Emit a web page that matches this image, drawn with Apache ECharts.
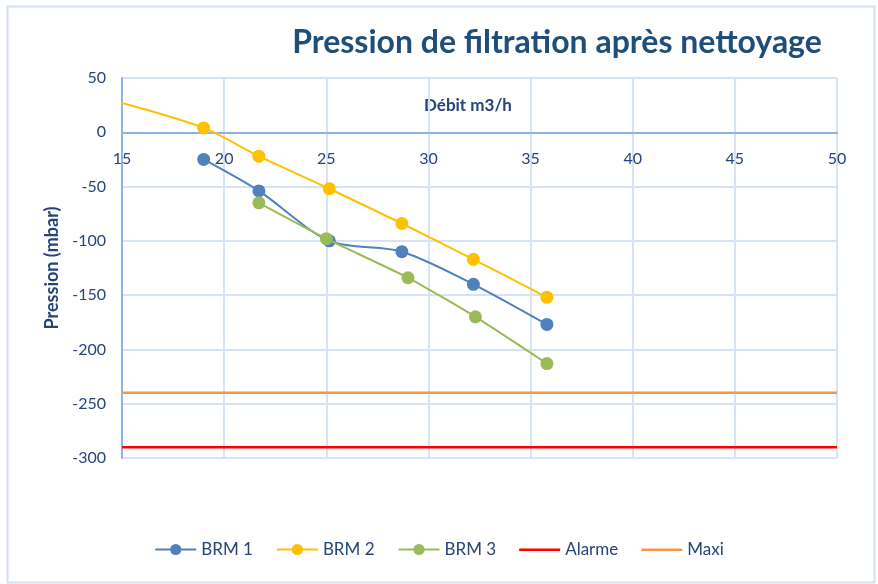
<!DOCTYPE html>
<html><head><meta charset="utf-8">
<script src="https://cdn.jsdelivr.net/npm/echarts@6/dist/echarts.min.js"></script>
<style>html,body{margin:0;padding:0;background:#fff}#c{width:878px;height:584px}</style>
</head><body><div id="c"></div>
<script>
const brm1X = [19.0, 21.7, 25.15, 28.7, 32.2, 35.8];
const brm1Y = [-25, -54, -100, -110, -140, -177];
const brm2X = [15, 19.0, 21.7, 25.15, 28.7, 32.2, 35.8];
const brm2Y = [27, 4, -22, -52, -84, -117, -152];
const brm3X = [21.7, 25.0, 29.0, 32.3, 35.8];
const brm3Y = [-65, -98, -134, -170, -213];
const limitX = [15, 50];
const alarmeY = [-290, -290];
const maxiY = [-240, -240];
const title = 'Pression de filtration après nettoyage';
const xName = 'Débit m3/h';
const yName = 'Pression (mbar)';

const zip = (xs, ys) => xs.map((x, i) => [x, ys[i]]);
const font = 'Lato, "Open Sans", sans-serif';
const txt = '#264478';
const lineIcon = 'path://M0,0 M0,6 L41,6 L41,8.5 L0,8.5 Z M41,14';

const chart = echarts.init(document.getElementById('c'));
const brm2Data = zip(brm2X, brm2Y).map((p, i) => i === 0 ? {value: p, symbolSize: 0} : p);

chart.setOption({
  animation: false,
  backgroundColor: '#fff',
  textStyle: {fontFamily: font},
  title: {
    text: title, left: 552, top: 22, textAlign: 'center',
    textStyle: {fontFamily: font, fontSize: 32, fontWeight: 'bold', color: '#1F4E79'}
  },
  graphic: [
    {type: 'rect', left: 5, top: 4, shape: {width: 867, height: 576},
     style: {fill: 'none', stroke: '#D5E0EF', lineWidth: 2}, z: -1},
    {type: 'text', left: 424, top: 97,
     style: {text: xName, fill: txt, font: 'bold 17px ' + font}}
  ],
  grid: {left: 122, right: 41, top: 78, bottom: 126},
  legend: {
    bottom: 21, left: 'center', itemWidth: 41, itemHeight: 14, itemGap: 23,
    textStyle: {color: txt, fontSize: 17, fontFamily: font},
    data: ['BRM 1', 'BRM 2', 'BRM 3', {name: 'Alarme', icon: lineIcon}, {name: 'Maxi', icon: lineIcon}]
  },
  xAxis: {
    type: 'value', min: 15, max: 50, interval: 5,
    axisLine: {onZero: true, lineStyle: {color: '#8EB4E3', width: 2}},
    axisTick: {show: false},
    axisLabel: {color: txt, fontSize: 16, margin: -307, fontFamily: font},
    splitLine: {show: true, lineStyle: {color: '#D6E3F4', width: 2}}
  },
  yAxis: {
    type: 'value', min: -300, max: 50, interval: 50,
    name: yName, nameLocation: 'middle', nameGap: 61,
    nameTextStyle: {color: txt, fontSize: 18, fontWeight: 'bold', fontFamily: font},
    axisLine: {show: true, onZero: false, lineStyle: {color: '#8EB4E3', width: 2}},
    axisTick: {show: false},
    axisLabel: {color: txt, fontSize: 16, margin: 16, fontFamily: font},
    splitLine: {show: true, lineStyle: {color: '#D6E3F4', width: 2}}
  },
  series: [
    {name: 'BRM 1', type: 'line', data: zip(brm1X, brm1Y), smooth: 0.3,
     symbol: 'circle', symbolSize: 13, color: '#4F81BD', lineStyle: {width: 2}, z: 3},
    {name: 'BRM 2', type: 'line', data: brm2Data, smooth: 0.3,
     symbol: 'circle', symbolSize: 13, color: '#FFC000', lineStyle: {width: 2}, z: 2},
    {name: 'BRM 3', type: 'line', data: zip(brm3X, brm3Y), smooth: 0.2,
     symbol: 'circle', symbolSize: 13, color: '#9BBB59', lineStyle: {width: 2}, z: 4},
    {name: 'Alarme', type: 'line', data: zip(limitX, alarmeY), symbol: 'none',
     color: '#FF0000', lineStyle: {width: 2.5}},
    {name: 'Maxi', type: 'line', data: zip(limitX, maxiY), symbol: 'none',
     color: '#F79646', lineStyle: {width: 2.5}}
  ]
});
</script></body></html>
